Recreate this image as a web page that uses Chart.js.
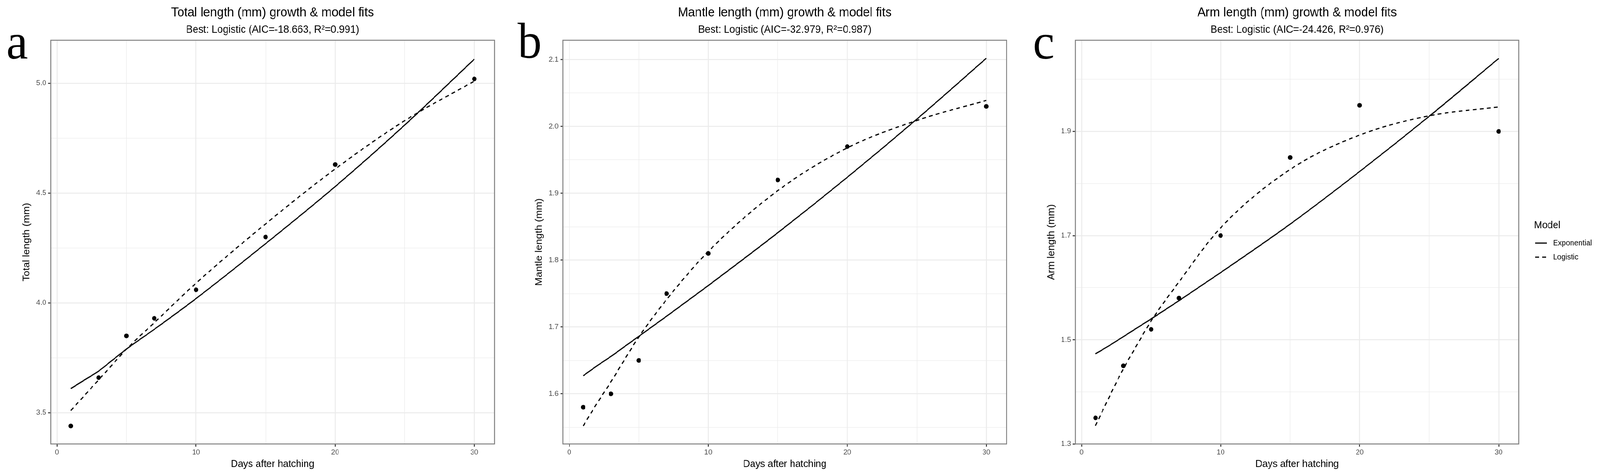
<!DOCTYPE html>
<html>
<head>
<meta charset="utf-8">
<script src="https://cdn.jsdelivr.net/npm/chart.js@4.4.1/dist/chart.umd.min.js"></script>
<style>
  html, body { margin: 0; padding: 0; background: #fff; overflow: hidden; }
  #page { position: absolute; left: 0; top: 0; width: 4297px; height: 1218px; transform-origin: 0 0; }
  .panel { position: absolute; top: 0; height: 1218px; }
  canvas { display: block; }
</style>
</head>
<body>
<div id="page">
  <div class="panel" style="left:0px;width:1380px"><canvas id="chartA"></canvas></div>
  <div class="panel" style="left:1380px;width:1380px"><canvas id="chartB"></canvas></div>
  <div class="panel" style="left:2760px;width:1537px"><canvas id="chartC"></canvas></div>
</div>
<script>
  // the figure is laid out 4297 px wide; squeeze it if the window is narrower
  var pageScale = Math.min(1, window.innerWidth / 4297);
  document.getElementById('page').style.transform = 'scaleX(' + pageScale + ')';

  // observed means
  var days = [1, 3, 5, 7, 10, 15, 20, 30];
  var totalObs = [3.44, 3.66, 3.85, 3.93, 4.06, 4.30, 4.63, 5.02];
  var mantleObs = [1.58, 1.60, 1.65, 1.75, 1.81, 1.92, 1.97, 2.03];
  var armObs = [1.35, 1.45, 1.52, 1.58, 1.70, 1.85, 1.95, 1.90];

  // fitted curves
  var fitDays = [1, 2, 3, 4, 5, 7, 10, 15, 20, 25, 30];
  var totalExp = [3.61, 3.65, 3.69, 3.74, 3.79, 3.88, 4.02, 4.27, 4.53, 4.81, 5.11];
  var totalLog = [3.51, 3.58, 3.65, 3.72, 3.79, 3.91, 4.09, 4.36, 4.61, 4.83, 5.01];
  var mantleExp = [1.627, 1.642, 1.656, 1.671, 1.686, 1.716, 1.762, 1.841, 1.924, 2.011, 2.102];
  var mantleLog = [1.552, 1.586, 1.618, 1.652, 1.685, 1.741, 1.813, 1.904, 1.968, 2.009, 2.039];
  var armExp = [1.473, 1.489, 1.506, 1.523, 1.540, 1.575, 1.629, 1.722, 1.823, 1.929, 2.040];
  var armLog = [1.335, 1.391, 1.444, 1.491, 1.536, 1.611, 1.715, 1.827, 1.893, 1.930, 1.947];

  // axis ticks (major labelled, minor = grid only)
  var xMajor = [0, 10, 20, 30];
  var xMinor = [5, 15, 25];
  var totalMajor = [3.5, 4.0, 4.5, 5.0];
  var totalMinor = [3.75, 4.25, 4.75];
  var mantleMajor = [1.6, 1.7, 1.8, 1.9, 2.0, 2.1];
  var mantleMinor = [1.55, 1.65, 1.75, 1.85, 1.95, 2.05];
  var armMajor = [1.3, 1.5, 1.7, 1.9];
  var armMinor = [1.4, 1.6, 1.8, 2.0];

  var modelNames = ['Exponential', 'Logistic'];

  var sans = '"Liberation Sans", Arial, Helvetica, sans-serif';

  function pairs(xs, ys) {
    return xs.map(function(x, i) { return {x: x, y: ys[i]}; });
  }

  function isMajor(v, majors) {
    return majors.some(function(m) { return Math.abs(m - v) < 1e-9; });
  }

  // ggplot-ish frame, panel tag and the model key
  var decor = {
    id: 'decor',
    afterDraw: function(chart, args, opts) {
      var ctx = chart.ctx;
      var a = chart.chartArea;
      ctx.save();
      ctx.strokeStyle = '#7f7f7f';
      ctx.lineWidth = 2.5;
      ctx.strokeRect(a.left, a.top, a.right - a.left, a.bottom - a.top);

      if (opts.tag) {
        ctx.fillStyle = '#000';
        ctx.font = '130px "Liberation Serif", "Times New Roman", serif';
        ctx.textBaseline = 'alphabetic';
        ctx.textAlign = 'left';
        ctx.fillText(opts.tag, opts.tagX, opts.tagY);
      }

      if (opts.keyX) {
        var kx = opts.keyX, ky = opts.keyY;
        ctx.fillStyle = '#000';
        ctx.textAlign = 'left';
        ctx.textBaseline = 'middle';
        ctx.font = '26px ' + sans;
        ctx.fillText('Model', kx, ky);
        ctx.font = '20px ' + sans;
        for (var i = 0; i < modelNames.length; i++) {
          var ds = chart.data.datasets[i];
          var yy = ky + 45 + i * 36;
          ctx.beginPath();
          ctx.setLineDash(ds.borderDash || []);
          ctx.lineWidth = ds.borderWidth;
          ctx.strokeStyle = '#000';
          ctx.moveTo(kx + 3, yy);
          ctx.lineTo(kx + 34, yy);
          ctx.stroke();
          ctx.setLineDash([]);
          ctx.fillText(ds.label, kx + 51, yy);
        }
      }
      ctx.restore();
    }
  };

  function makeChart(id, cfg) {
    var xTicks = xMajor.concat(xMinor).sort(function(p, q) { return p - q; });
    var yTicks = cfg.yMajor.concat(cfg.yMinor).sort(function(p, q) { return p - q; });

    return new Chart(document.getElementById(id), {
      type: 'line',
      data: {
        datasets: [
          {
            label: modelNames[0],
            data: pairs(fitDays, cfg.exp),
            borderColor: '#000',
            borderWidth: 3,
            pointRadius: 0,
            cubicInterpolationMode: 'monotone',
            fill: false
          },
          {
            label: modelNames[1],
            data: pairs(fitDays, cfg.log),
            borderColor: '#000',
            borderWidth: 3,
            borderDash: [10, 9],
            pointRadius: 0,
            cubicInterpolationMode: 'monotone',
            fill: false
          },
          {
            label: 'Observed',
            data: pairs(days, cfg.obs),
            showLine: false,
            pointRadius: 6,
            pointBackgroundColor: '#000',
            pointBorderWidth: 0,
            borderColor: '#000'
          }
        ]
      },
      options: {
        responsive: true,
        maintainAspectRatio: false,
        devicePixelRatio: 1,
        animation: false,
        layout: { padding: { left: cfg.padLeft, right: cfg.padRight, top: 0, bottom: 0 } },
        plugins: {
          legend: { display: false },
          tooltip: { enabled: false },
          title: {
            display: true,
            text: cfg.title,
            fullSize: false,
            color: '#000',
            font: { family: sans, size: 33, weight: 'normal' },
            padding: { top: 13, bottom: 0 }
          },
          subtitle: {
            display: true,
            text: cfg.subtitle,
            fullSize: false,
            color: '#000',
            font: { family: sans, size: 27, weight: 'normal' },
            padding: { top: 8, bottom: 10 }
          },
          decor: { tag: cfg.tag, tagX: cfg.tagX, tagY: cfg.tagY, keyX: cfg.keyX, keyY: cfg.keyY }
        },
        scales: {
          x: {
            type: 'linear',
            min: -0.45,
            max: 31.45,
            afterBuildTicks: function(scale) {
              scale.ticks = xTicks.map(function(v) { return {value: v}; });
            },
            afterFit: function(scale) { scale.height = 82; },
            ticks: {
              autoSkip: false,
              maxRotation: 0,
              padding: 3,
              color: '#4d4d4d',
              font: { family: sans, size: 19 },
              callback: function(v) { return isMajor(v, xMajor) ? String(v) : ''; }
            },
            grid: {
              color: '#ebebeb',
              lineWidth: function(c) { return c.tick && isMajor(c.tick.value, xMajor) ? 2.5 : 1.3; },
              tickColor: function(c) { return c.tick && isMajor(c.tick.value, xMajor) ? '#333' : 'rgba(0,0,0,0)'; },
              tickWidth: 2.5,
              tickLength: 7
            },
            border: { display: false },
            title: {
              display: true,
              text: 'Days after hatching',
              color: '#000',
              font: { family: sans, size: 26 },
              padding: { top: 0, bottom: 15 }
            }
          },
          y: {
            type: 'linear',
            min: cfg.yMin,
            max: cfg.yMax,
            afterBuildTicks: function(scale) {
              scale.ticks = yTicks.map(function(v) { return {value: v}; });
            },
            afterFit: function(scale) { scale.width = 79.5; },
            ticks: {
              autoSkip: false,
              padding: 5,
              color: '#4d4d4d',
              font: { family: sans, size: 19 },
              callback: function(v) { return isMajor(v, cfg.yMajor) ? v.toFixed(1) : ''; }
            },
            grid: {
              color: '#ebebeb',
              lineWidth: function(c) { return c.tick && isMajor(c.tick.value, cfg.yMajor) ? 2.5 : 1.3; },
              tickColor: function(c) { return c.tick && isMajor(c.tick.value, cfg.yMajor) ? '#333' : 'rgba(0,0,0,0)'; },
              tickWidth: 2.5,
              tickLength: 7
            },
            border: { display: false },
            title: {
              display: true,
              text: cfg.yTitle,
              color: '#000',
              font: { family: sans, size: 26 },
              padding: { top: 0, bottom: 0 }
            }
          }
        }
      },
      plugins: [decor]
    });
  }

  makeChart('chartA', {
    title: 'Total length (mm) growth & model fits',
    subtitle: 'Best: Logistic (AIC=-18.663, R²=0.991)',
    yTitle: 'Total length (mm)',
    obs: totalObs, exp: totalExp, log: totalLog,
    yMin: 3.358, yMax: 5.196, yMajor: totalMajor, yMinor: totalMinor,
    padLeft: 56.5, padRight: 52,
    tag: 'a', tagX: 17, tagY: 150
  });

  makeChart('chartB', {
    title: 'Mantle length (mm) growth & model fits',
    subtitle: 'Best: Logistic (AIC=-32.979, R²=0.987)',
    yTitle: 'Mantle length (mm)',
    obs: mantleObs, exp: mantleExp, log: mantleLog,
    yMin: 1.525, yMax: 2.129, yMajor: mantleMajor, yMinor: mantleMinor,
    padLeft: 52.5, padRight: 57,
    tag: 'b', tagX: 10, tagY: 148
  });

  makeChart('chartC', {
    title: 'Arm length (mm) growth & model fits',
    subtitle: 'Best: Logistic (AIC=-24.426, R²=0.976)',
    yTitle: 'Arm length (mm)',
    obs: armObs, exp: armExp, log: armLog,
    yMin: 1.3, yMax: 2.075, yMajor: armMajor, yMinor: armMinor,
    padLeft: 48.5, padRight: 218,
    tag: 'c', tagX: 14, tagY: 150,
    keyX: 1360, keyY: 577
  });
</script>
</body>
</html>
